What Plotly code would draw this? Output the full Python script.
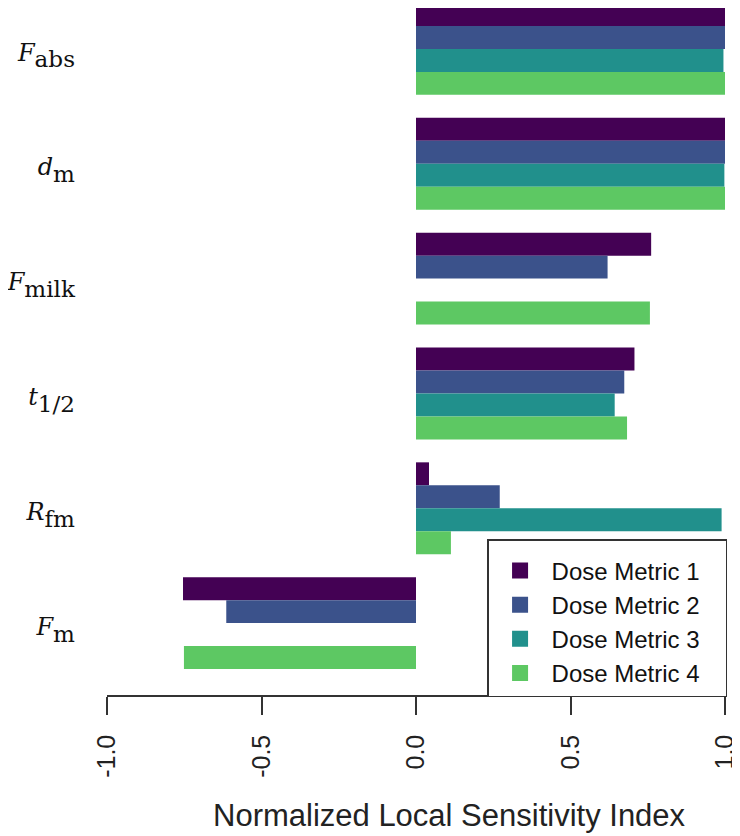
import plotly.graph_objects as go

# Categories (top to bottom)
params = ["F_abs", "d_m", "F_milk", "t_half", "R_fm", "F_m"]
param_labels = [
    '<span style="font-size:24px"><i>F</i></span><sub>abs</sub>',
    '<span style="font-size:24px"><i>d</i></span><sub>m</sub>',
    '<span style="font-size:24px"><i>F</i></span><sub>milk</sub>',
    '<span style="font-size:24px"><i>t</i></span><sub>1/2</sub>',
    '<span style="font-size:24px"><i>R</i></span><sub>fm</sub>',
    '<span style="font-size:24px"><i>F</i></span><sub>m</sub>',
]

series_names = ["Dose Metric 1", "Dose Metric 2", "Dose Metric 3", "Dose Metric 4"]
colors = ["#440154", "#3B528B", "#21908C", "#5DC863"]

dose_metric_1 = [1.0, 1.0, 0.761, 0.707, 0.042, -0.754]
dose_metric_2 = [1.0, 1.0, 0.620, 0.674, 0.271, -0.614]
dose_metric_3 = [0.995, 0.998, None, 0.643, 0.989, None]
dose_metric_4 = [1.0, 1.0, 0.757, 0.683, 0.113, -0.751]
series_values = [dose_metric_1, dose_metric_2, dose_metric_3, dose_metric_4]

x_tickvals = [-1.0, -0.5, 0.0, 0.5, 1.0]
x_ticktext = ["-1.0", "-0.5", "0.0", "0.5", "1.0"]

fig = go.Figure()
for name, vals, col in zip(series_names, series_values, colors):
    fig.add_trace(go.Bar(
        y=params, x=vals, orientation="h", name=name,
        marker=dict(color=col, line=dict(width=0)),
        showlegend=False,
    ))
# legend entries (bigger squares than bar legend symbols)
for name, col in zip(series_names, colors):
    fig.add_trace(go.Scatter(
        x=[None], y=[None], mode="markers", name=name + "&nbsp;&nbsp;&nbsp;",
        marker=dict(symbol="square", size=16, color=col),
        showlegend=True,
    ))

fig.update_layout(
    width=732, height=828,
    margin=dict(l=99, r=15, t=0, b=141),
    paper_bgcolor="white", plot_bgcolor="white",
    barmode="group", bargap=0.2, bargroupgap=0,
    font=dict(family="Liberation Sans, Arial, sans-serif", color="#222222"),
    legend=dict(
        x=0.615, xanchor="left", y=0.227, yanchor="top",
        bordercolor="#333333", borderwidth=1.5, bgcolor="white",
        font=dict(size=24, family="Liberation Sans, Arial, sans-serif", color="#111111"),
        itemwidth=53, tracegroupgap=0, itemsizing="trace",
        title=dict(text="&nbsp;", font=dict(size=6)),
    ),
    xaxis=dict(
        range=[-1, 1], tickvals=x_tickvals, ticktext=x_ticktext,
        tickangle=-90, showline=True, linecolor="#333333", linewidth=1.5,
        ticks="outside", ticklen=18, tickwidth=1.5, tickcolor="#333333",
        showgrid=False, zeroline=False, ticklabelstandoff=10,
        tickfont=dict(size=25, family="Liberation Sans, Arial, sans-serif", color="#222222"),
    ),
    yaxis=dict(
        categoryorder="array", categoryarray=params,
        tickvals=params, ticktext=param_labels,
        range=[5.626, -0.3565], showline=False, showgrid=False, zeroline=False,
        ticks="", ticklabelstandoff=31,
        tickfont=dict(size=33, family="DejaVu Serif, serif", color="#111111"),
    ),
    annotations=[dict(
        text="Normalized Local Sensitivity Index", xref="paper", yref="paper",
        x=0.555, y=-0.1747, xanchor="center", yanchor="middle", showarrow=False,
        font=dict(size=31, family="Liberation Sans, Arial, sans-serif", color="#222222"),
    )],
)

fig.write_html("out.html")
